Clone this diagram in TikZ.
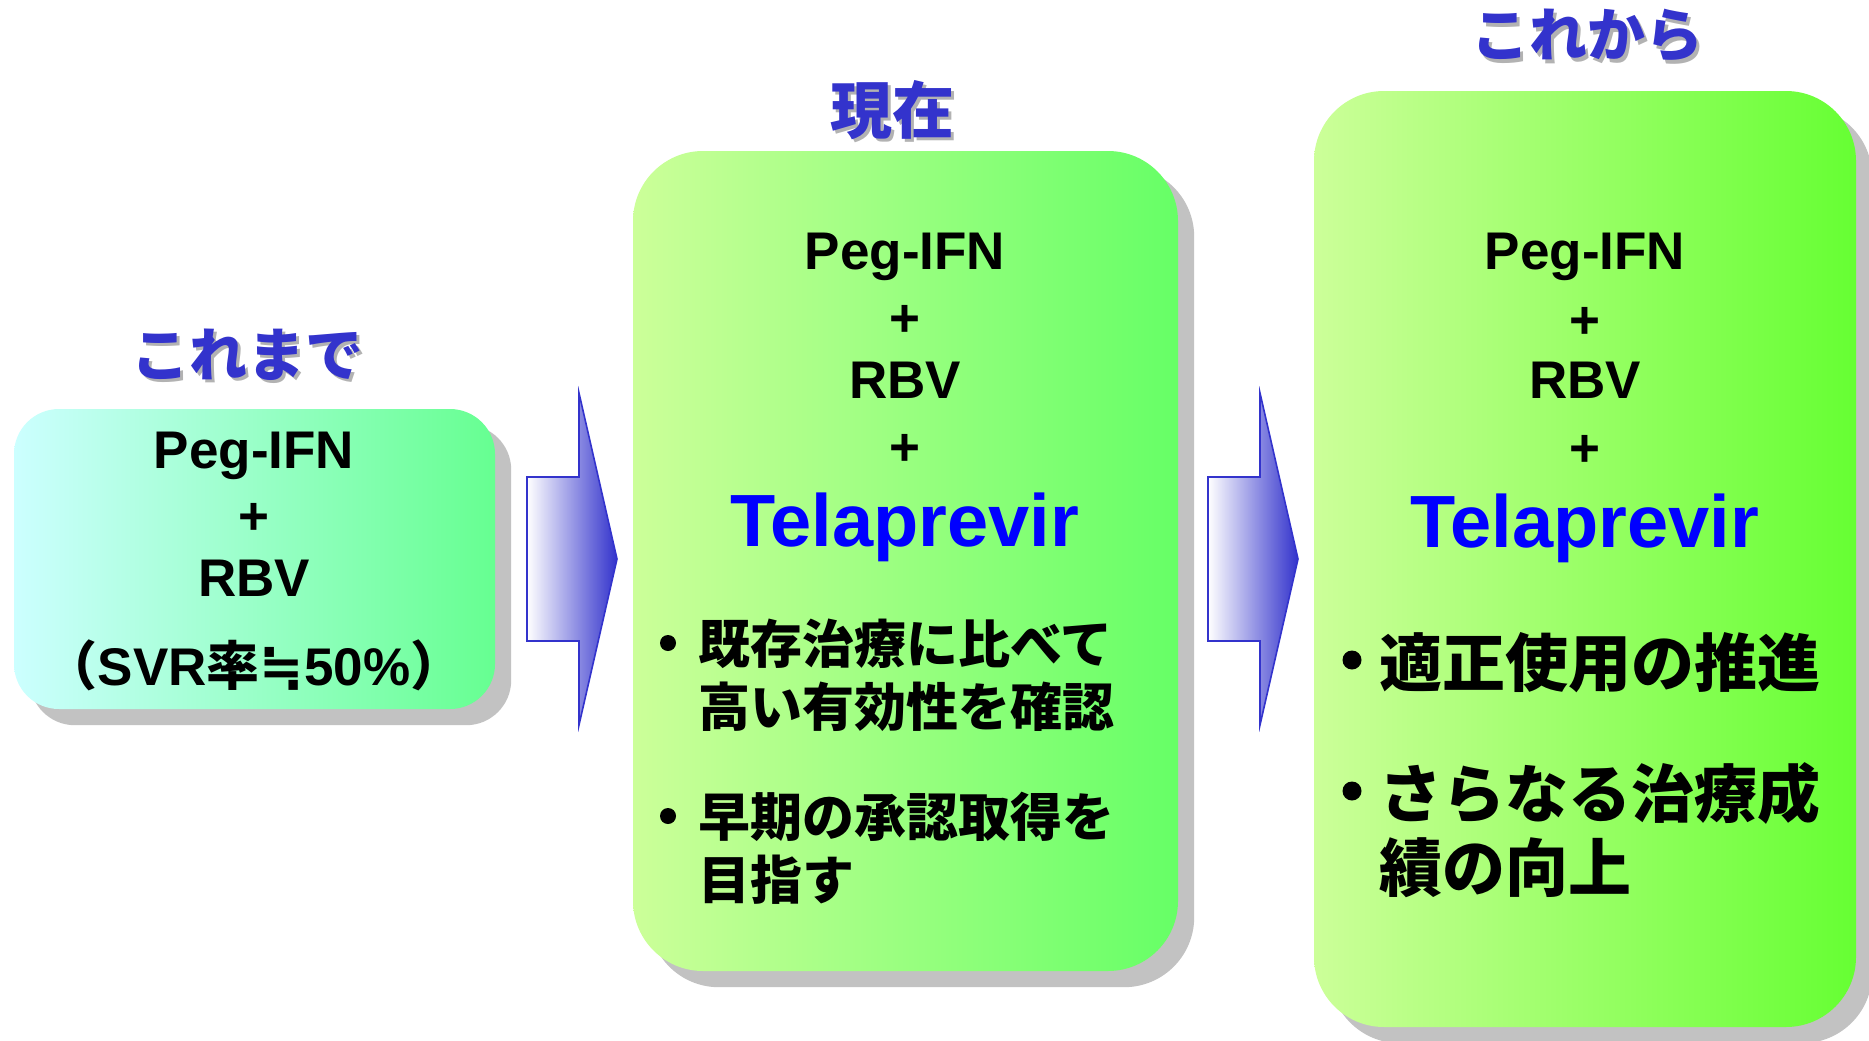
\documentclass[tikz,border=0pt]{standalone}
\usepackage{fontspec}
\setmainfont{Liberation Sans}
\newfontfamily\jp{Noto Sans CJK JP}
\newfontfamily\symfont{DejaVu Sans}
\usetikzlibrary{backgrounds}
\definecolor{titleblue}{RGB}{51,51,204}
\definecolor{titleshade}{RGB}{178,178,178}
\definecolor{shadowgray}{RGB}{194,194,194}
\definecolor{drugblue}{RGB}{0,0,255}
\definecolor{cyanlight}{RGB}{204,255,255}
\definecolor{mintgreen}{RGB}{102,255,145}
\definecolor{limelight}{RGB}{204,255,153}
\definecolor{greenmid}{RGB}{102,255,102}
\definecolor{greenstrong}{RGB}{102,255,51}
\definecolor{arrowblue}{RGB}{51,51,204}
\newcommand\fsz[1]{\fontsize{#1}{#1}\selectfont}
\begin{document}
\begin{tikzpicture}[x=1pt,y=-1pt,
  stage/.style={rectangle, inner sep=0pt, draw=none},
  smallstage/.style={stage, rounded corners=45pt, left color=cyanlight, right color=mintgreen},
  midstage/.style={stage, rounded corners=70pt, left color=limelight, right color=greenmid},
  bigstage/.style={stage, rounded corners=70pt, left color=limelight, right color=greenstrong},
  boxshadow/.style={fill=shadowgray},
  heading/.style={anchor=base, inner sep=0pt, font=\jp\bfseries\fsz{#1}, text=titleblue},
  headshade/.style={anchor=base, inner sep=0pt, font=\jp\bfseries\fsz{#1}, text=titleshade},
  drug/.style={anchor=base, inner sep=0pt, font=\bfseries\fsz{53}},
  drugbig/.style={anchor=base, inner sep=0pt, font=\bfseries\fsz{74}, text=drugblue},
  bullettext/.style={anchor=base west, inner sep=0pt, font=\jp\bfseries\fsz{#1}},
  dot/.style={circle, inner sep=0pt, fill=black, minimum size=#1},
  stagearrow/.style={draw=arrowblue, line width=1.6pt, line join=miter, left color=white, right color=arrowblue}
]
\useasboundingbox (0,0) rectangle (1869,1041);

% the three stage boxes
\node[smallstage, minimum width=481pt, minimum height=300pt] (past) at (254.5,559) {};
\node[midstage, minimum width=545pt, minimum height=820pt] (now) at (905.5,561) {};
\node[bigstage, minimum width=542pt, minimum height=936pt] (next) at (1585,559) {};

% drop shadows behind the boxes
\begin{scope}[on background layer]
  \path[boxshadow, rounded corners=45pt] ([shift={(16,16)}]past.north west) rectangle ([shift={(16,16)}]past.south east);
  \path[boxshadow, rounded corners=70pt] ([shift={(16,16)}]now.north west) rectangle ([shift={(16,16)}]now.south east);
  \path[boxshadow, rounded corners=70pt] ([shift={(16,16)}]next.north west) rectangle ([shift={(16,16)}]next.south east);
\end{scope}

% headings with a soft offset shadow
\node[headshade=58] (pastTs) at (250,379) {これまで};
\node[heading=58] (pastT) at (247,376) {これまで};
\node[headshade=62] (nowTs) at (895,136) {現在};
\node[heading=62] (nowT) at (892,133) {現在};
\node[headshade=58] (nextTs) at (1590,60) {これから};
\node[heading=58] (nextT) at (1587,57) {これから};

% block arrows between the stages
\path[stagearrow] (527,477) -- (579,477) -- (579,393) -- (617,559) -- (579,725) -- (579,641) -- (527,641) -- cycle;
\path[stagearrow] (1208,477) -- (1260,477) -- (1260,393) -- (1298,559) -- (1260,725) -- (1260,641) -- (1208,641) -- cycle;

% past regimen
\node[drug] (p1) at (254,468) {Peg-IFN};
\node[drug] (p2) at (254,534) {+};
\node[drug] (p3) at (254,596) {RBV};
\node[drug] (p4) at (254,685) {{\jp （}SVR{\jp 率}{\symfont ≒}50\%{\jp ）}};

% current regimen
\node[drug] (n1) at (905,269) {Peg-IFN};
\node[drug] (n2) at (905,336) {+};
\node[drug] (n3) at (905,398) {RBV};
\node[drug] (n4) at (905,465) {+};
\node[drugbig] (n5) at (905,546) {Telaprevir};
\node[dot=16pt] (nb1) at (668,643) {};
\node[bullettext=52] (nl1) at (698,663) {既存治療に比べて};
\node[bullettext=52] (nl2) at (698,726) {高い有効性を確認};
\node[dot=16pt] (nb2) at (668,816) {};
\node[bullettext=52] (nl3) at (698,836) {早期の承認取得を};
\node[bullettext=52] (nl4) at (698,899) {目指す};

% future regimen
\node[drug] (f1) at (1585,269) {Peg-IFN};
\node[drug] (f2) at (1585,338) {+};
\node[drug] (f3) at (1585,398) {RBV};
\node[drug] (f4) at (1585,466) {+};
\node[drugbig] (f5) at (1585,547) {Telaprevir};
\node[dot=19pt] (fb1) at (1352,660) {};
\node[bullettext=63] (fl1) at (1379,686) {適正使用の推進};
\node[dot=19pt] (fb2) at (1352,791) {};
\node[bullettext=63] (fl2) at (1379,817) {さらなる治療成};
\node[bullettext=63] (fl3) at (1379,891) {績の向上};
\end{tikzpicture}
\end{document}
